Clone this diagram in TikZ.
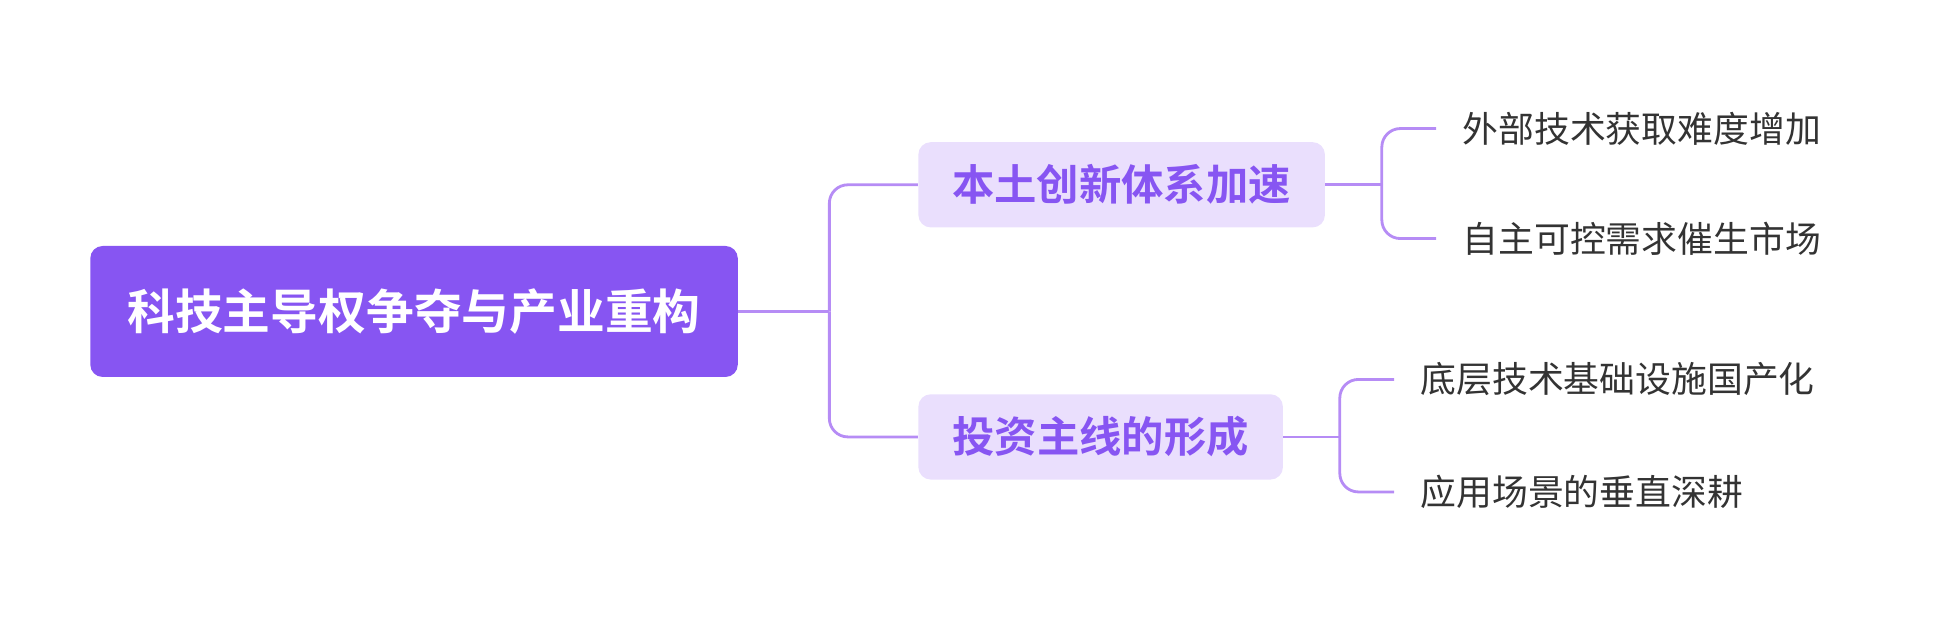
\documentclass[tikz,border=0pt]{standalone}
\usepackage{fontspec}
\newfontfamily\cjk{Noto Sans CJK SC}
\newfontfamily\cjkbold{Noto Sans CJK SC Bold}
\usetikzlibrary{positioning}
\definecolor{rootfill}{HTML}{8755F2}
\definecolor{subfill}{HTML}{EADFFD}
\definecolor{linkcol}{HTML}{B68CF5}
\definecolor{leaftext}{HTML}{333333}
\tikzset{
    rootnode/.style={fill=rootfill, text=white, rounded corners=0.2cm, minimum width=10.48cm, minimum height=2.12cm, font=\cjkbold\fontsize{22}{26}\selectfont},
    subnode/.style={fill=subfill, text=rootfill, rounded corners=0.2cm, minimum height=1.38cm, inner xsep=0pt, font=\cjkbold\fontsize{19.5}{23}\selectfont},
    leafnode/.style={anchor=west, text=leaftext, inner xsep=0.42cm, inner ysep=0pt, font=\cjk\fontsize{16.5}{20}\selectfont},
    link/.style={draw=linkcol, line width=1.3pt, rounded corners=0.3cm}
}
\begin{document}
\begin{tikzpicture}[x=0.02cm, y=-0.02cm]
    \useasboundingbox (0,0) rectangle (1568,505);
    \node[rootnode] at (335,252) (root) {科技主导权争夺与产业重构};
    \node[subnode, minimum width=6.58cm] at (907.5,149.5) (innov) {本土创新体系加速};
    \node[subnode, minimum width=5.9cm] at (890.5,353.5) (invest) {投资主线的形成};
    \node[leafnode] at (1162,104) (ext) {外部技术获取难度增加};
    \node[leafnode] at (1162,193) (self) {自主可控需求催生市场};
    \node[leafnode] at (1128,307) (base) {底层技术基础设施国产化};
    \node[leafnode] at (1128,398) (app) {应用场景的垂直深耕};
    \coordinate (rootfork) at (671,252);
    \coordinate (innovfork) at (1118,149.5);
    \coordinate (investfork) at (1084,353.5);
    % links
    \draw[link] (root.east) -- (rootfork);
    \draw[link] (rootfork) |- (innov.west);
    \draw[link] (rootfork) |- (invest.west);
    \draw[link] (innov.east) -- (innovfork);
    \draw[link] (innovfork) |- (ext.west);
    \draw[link] (innovfork) |- (self.west);
    \draw[link] (invest.east) -- (investfork);
    \draw[link] (investfork) |- (base.west);
    \draw[link] (investfork) |- (app.west);
\end{tikzpicture}
\end{document}
